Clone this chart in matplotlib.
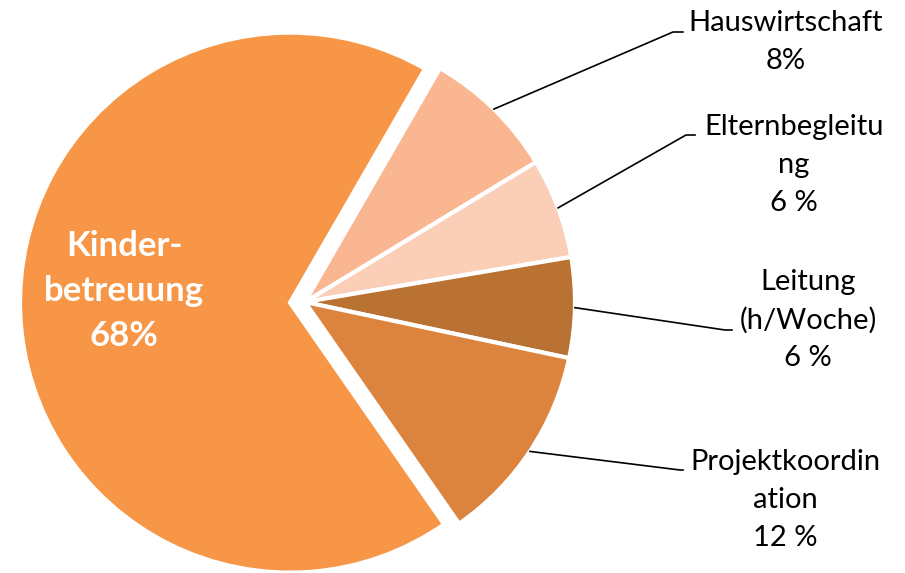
import matplotlib.pyplot as plt
import numpy as np

plt.rcParams['font.family'] = ['Lato', 'DejaVu Sans']

# Data
categories = ['Hauswirtschaft', 'Elternbegleitung', 'Leitung (h/Woche)',
              'Projektkoordination', 'Kinderbetreuung']
shares = [8, 6, 6, 12, 68]
label_texts = ['Hauswirtschaft\n8%', 'Elternbegleitu\nng\n6 %',
               'Leitung\n(h/Woche)\n6 %', 'Projektkoordin\nation\n12 %',
               'Kinder-\nbetreuung\n68%']
colors = ['#F9B691', '#FBCEB8', '#B97232', '#DC843E', '#F79646']

W, H = 905, 573
fig = plt.figure(figsize=(W / 100, H / 100), dpi=100)
ax = fig.add_axes([0, 0, 1, 1])

cx, cy, r = 305, H - 302, 270
explode = [0, 0, 0, 0, 15]
wedges, _ = ax.pie(shares, colors=colors, explode=explode, startangle=60,
                   counterclock=False, center=(cx, cy), radius=r,
                   wedgeprops=dict(edgecolor='white', linewidth=3))

ax.set_xlim(0, W)
ax.set_ylim(0, H)
ax.set_aspect('equal')
ax.axis('off')

# outside labels: (text x, text y, elbow x, elbow y, elbow end x) in pixels from top
label_pos = [
    (786, 42, 673, 32, 683),
    (794, 165, 686, 135, 695),
    (808, 320, 725, 330, 732),
    (785, 500, 680, 470, 683),
]
for w, txt, (tx, ty, ex, ey, ex2) in zip(wedges[:4], label_texts[:4], label_pos):
    mid = np.deg2rad((w.theta1 + w.theta2) / 2)
    px = w.center[0] + w.r * np.cos(mid)
    py = w.center[1] + w.r * np.sin(mid)
    ax.plot([px, ex, ex2], [py, H - ey, H - ey], color='black', lw=1.2)
    ax.text(tx, H - ty, txt, ha='center', va='center', fontsize=21,
            linespacing=1.55, color='black')

ax.text(124, H - 291, label_texts[4], ha='center', va='center', fontsize=25,
        fontweight='bold', color='white', linespacing=1.5)

fig.savefig('out.png', dpi=100)
